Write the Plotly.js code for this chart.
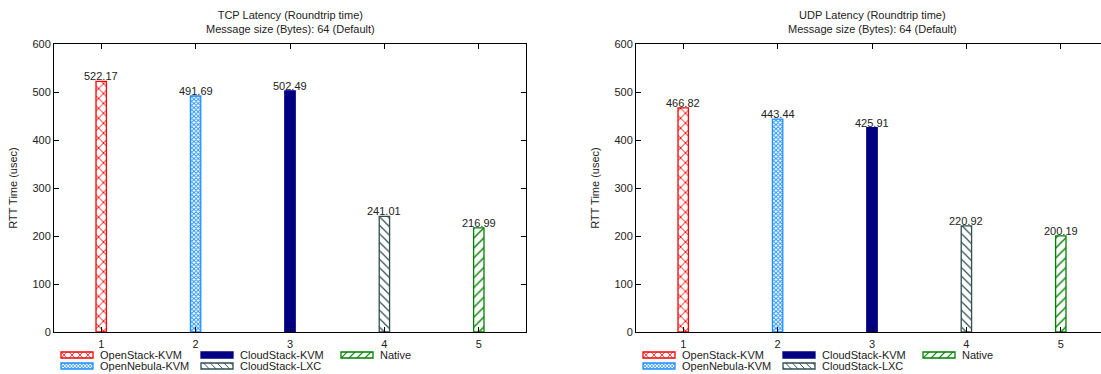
<!DOCTYPE html>
<html>
<head>
<meta charset="utf-8">
<script src="https://cdn.plot.ly/plotly-3.0.1.min.js"></script>
<style>
html,body{margin:0;padding:0;overflow:hidden;background:#fff;}
#chart{width:1110px;height:374px;}
</style>
</head>
<body>
<div id="chart"></div>
<script>
const categories = [1, 2, 3, 4, 5];
const seriesNames = ['OpenStack-KVM', 'OpenNebula-KVM', 'CloudStack-KVM', 'CloudStack-LXC', 'Native'];
const tcpValues = [522.17, 491.69, 502.49, 241.01, 216.99];
const udpValues = [466.82, 443.44, 425.91, 220.92, 200.19];
const tcpTitle = 'TCP Latency (Roundtrip time)<br>Message size (Bytes): 64 (Default)';
const udpTitle = 'UDP Latency (Roundtrip time)<br>Message size (Bytes): 64 (Default)';
const yTitle = 'RTT Time (usec)';

const W = 1110, H = 374;
const FONT = 'Liberation Sans, Arial, sans-serif';
const styles = [
  {color: '#ff0000', shape: 'x', size: 7, bg: '#ffffff', line: '#ff0000', sol: 0.25},
  {color: '#1e8fff', shape: 'x', size: 3, bg: '#ffffff', line: '#1e8fff', sol: 0.5},
  {color: '#000080', shape: '', size: 6, bg: '#000080', line: '#000080', sol: 0.25},
  {color: '#2f4f4f', shape: '\\', size: 6, bg: '#ffffff', line: '#2f4f4f', sol: 0.2},
  {color: '#008000', shape: '/', size: 7, bg: '#ffffff', line: '#008000', sol: 0.2}
];
// legend row assignment: row 1 -> 0,2,4 ; row 2 -> 1,3
const rowOf = [0, 1, 0, 1, 0];

function makeTraces(values, xa, ya, legA, legB) {
  return values.map((v, i) => ({
    type: 'bar',
    name: seriesNames[i],
    x: [categories[i]],
    y: [v],
    width: 0.11,
    xaxis: xa, yaxis: ya,
    legend: rowOf[i] === 0 ? legA : legB,
    marker: {
      color: styles[i].bg,
      line: {color: styles[i].line, width: 1.3},
      pattern: {shape: styles[i].shape, fgcolor: styles[i].color, bgcolor: styles[i].bg, size: styles[i].size, solidity: styles[i].sol, fillmode: 'replace'}
    },
    hoverinfo: 'skip'
  }));
}
function makeLabels(values, xa, ya) {
  return values.map((v, i) => ({
    x: categories[i], y: v, xref: xa, yref: ya, text: v.toFixed(2),
    showarrow: false, xanchor: 'center', yanchor: 'bottom', yshift: -3,
    font: {family: FONT, size: 11, color: '#222'}
  }));
}

const data = makeTraces(tcpValues, 'x', 'y', 'legend', 'legend2')
  .concat(makeTraces(udpValues, 'x2', 'y2', 'legend3', 'legend4'));

const yDom = [(H - 332) / H, (H - 44) / H];
function xAx(dom) {
  return {
    domain: dom, range: [0.5, 5.5], tickvals: categories, ticktext: categories.map(String),
    ticks: 'inside', ticklen: 5, tickcolor: '#000', mirror: 'ticks', showline: true,
    linecolor: '#000', linewidth: 1, showgrid: false, zeroline: false, ticklabelstandoff: 2,
    tickfont: {family: FONT, size: 11, color: '#222'}, fixedrange: true
  };
}
function yAx(anchor) {
  return {
    domain: yDom, anchor: anchor, range: [0, 600], dtick: 100, tick0: 0,
    ticks: 'inside', ticklen: 5, tickcolor: '#000', mirror: 'ticks', showline: true,
    linecolor: '#000', linewidth: 1, showgrid: false, zeroline: false,
    tickfont: {family: FONT, size: 11, color: '#222'},
    title: {text: yTitle, font: {family: FONT, size: 11, color: '#222'}, standoff: 12},
    fixedrange: true
  };
}
function leg(xpx, ypx) {
  return {
    orientation: 'h', x: xpx / W, y: (H - ypx) / H, xanchor: 'left', yanchor: 'middle',
    entrywidth: 95, entrywidthmode: 'pixels', itemwidth: 30,
    font: {family: FONT, size: 11, color: '#222'}, bgcolor: 'rgba(0,0,0,0)', borderwidth: 0,
    traceorder: 'normal'
  };
}

const layout = {
  width: W, height: H,
  margin: {l: 0, r: 0, t: 0, b: 0, autoexpand: false},
  paper_bgcolor: '#fff', plot_bgcolor: '#fff',
  barmode: 'overlay',
  showlegend: true,
  xaxis: Object.assign(xAx([54 / W, 526 / W]), {anchor: 'y'}),
  yaxis: yAx('x'),
  xaxis2: Object.assign(xAx([636 / W, 1108 / W]), {anchor: 'y2'}),
  yaxis2: yAx('x2'),
  legend: leg(60, 355),
  legend2: leg(60, 366),
  legend3: leg(642, 355),
  legend4: leg(642, 366),
  annotations: [
    {text: tcpTitle, xref: 'paper', yref: 'paper', x: 290 / W, y: (H - 21.5) / H, xanchor: 'center', yanchor: 'middle', showarrow: false, font: {family: FONT, size: 11, color: '#222'}},
    {text: udpTitle, xref: 'paper', yref: 'paper', x: 872 / W, y: (H - 21.5) / H, xanchor: 'center', yanchor: 'middle', showarrow: false, font: {family: FONT, size: 11, color: '#222'}}
  ].concat(makeLabels(tcpValues, 'x', 'y'), makeLabels(udpValues, 'x2', 'y2'))
};

Plotly.newPlot('chart', data, layout, {displayModeBar: false, staticPlot: true}).then(gd => {
  gd.querySelectorAll('.legendpoints path').forEach(p => {
    p.setAttribute('d', 'M-19,3H13V-3H-19Z');
  });
});
</script>
</body>
</html>
